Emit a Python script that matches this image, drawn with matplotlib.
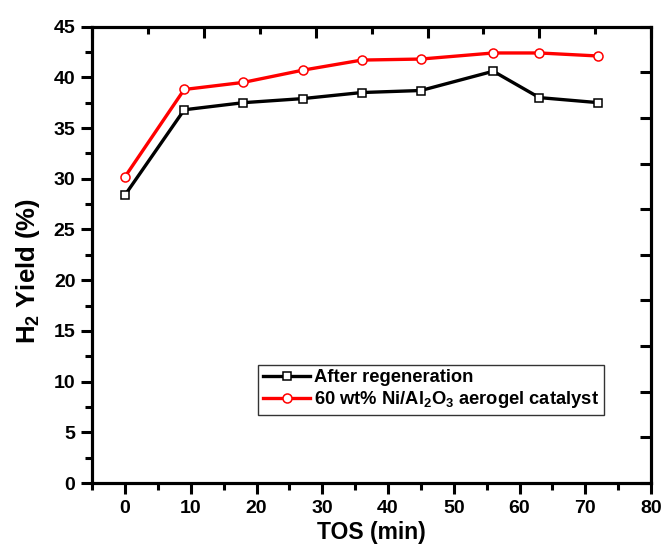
import matplotlib

matplotlib.use("Agg")
import matplotlib.pyplot as plt
from matplotlib.ticker import MultipleLocator

plt.rcParams["font.family"] = ["Liberation Sans", "DejaVu Sans"]
plt.rcParams["font.weight"] = "bold"
plt.rcParams["mathtext.fontset"] = "custom"
plt.rcParams["mathtext.rm"] = "Liberation Sans:bold"
plt.rcParams["mathtext.bf"] = "Liberation Sans:bold"
plt.rcParams["mathtext.it"] = "Liberation Sans:bold"

# time on stream (min)
tos = [0, 9, 18, 27, 36, 45, 56, 63, 72]
# H2 yield (%)
after_regen = [28.4, 36.8, 37.5, 37.9, 38.5, 38.7, 40.6, 38.0, 37.5]
fresh = [30.2, 38.8, 39.5, 40.7, 41.7, 41.8, 42.4, 42.4, 42.1]

labels = ["After regeneration", r"60 wt% Ni/Al$_2$O$_3$ aerogel catalyst"]

fig = plt.figure(figsize=(6.63, 5.54), dpi=100)
ax = fig.add_axes([0.139, 0.128, 0.843, 0.824])

ax.plot(tos, after_regen, color="black", lw=2.4, marker="s", ms=6,
        mfc="white", mec="black", mew=1.1, label=labels[0], zorder=3)
ax.plot(tos, fresh, color="red", lw=2.4, marker="o", ms=6.5,
        mfc="white", mec="red", mew=1.1, label=labels[1], zorder=3)

ax.set_xlim(-5, 80)
ax.set_ylim(0, 45)
ax.xaxis.set_major_locator(MultipleLocator(10))
ax.xaxis.set_minor_locator(MultipleLocator(5))
ax.yaxis.set_major_locator(MultipleLocator(5))
ax.yaxis.set_minor_locator(MultipleLocator(2.5))
ax.tick_params(which="major", direction="out", length=8, width=2.2,
               labelsize=14, pad=4)
ax.tick_params(which="minor", direction="out", length=5, width=2.2)
for lab in ax.get_xticklabels() + ax.get_yticklabels():
    lab.set_fontweight("bold")
for sp in ax.spines.values():
    sp.set_linewidth(2.2)

ax.set_xlabel("TOS (min)", fontsize=16.5, fontweight="bold", labelpad=3)
ax.set_ylabel(r"H$_2$ Yield (%)", fontsize=18.5, fontweight="bold")
ax.yaxis.set_label_coords(-0.089, 0.465)

# unlinked top / right axes with their own tenths ticks
top = ax.twiny()
top.set_xlim(0, 10)
top.xaxis.set_major_locator(MultipleLocator(2))
top.xaxis.set_minor_locator(MultipleLocator(1))
top.tick_params(which="major", direction="in", length=8, width=2.2, labeltop=False)
top.tick_params(which="minor", direction="in", length=5, width=2.2)
right = ax.twinx()
right.set_ylim(0, 10)
right.yaxis.set_major_locator(MultipleLocator(1))
right.tick_params(which="major", direction="in", length=8, width=2.2, labelright=False)
for a in (top, right):
    for sp in a.spines.values():
        sp.set_linewidth(2.2)

leg = ax.legend(loc="lower left", bbox_to_anchor=(0.297, 0.15), fontsize=13.2,
                frameon=True, fancybox=False, edgecolor="black", borderpad=0.25,
                labelspacing=0.15, handlelength=2.6, handletextpad=0.2,
                borderaxespad=0)
leg.get_frame().set_linewidth(1.0)
for t in leg.get_texts():
    t.set_fontweight("bold")

fig.savefig("out.png", dpi=100)
